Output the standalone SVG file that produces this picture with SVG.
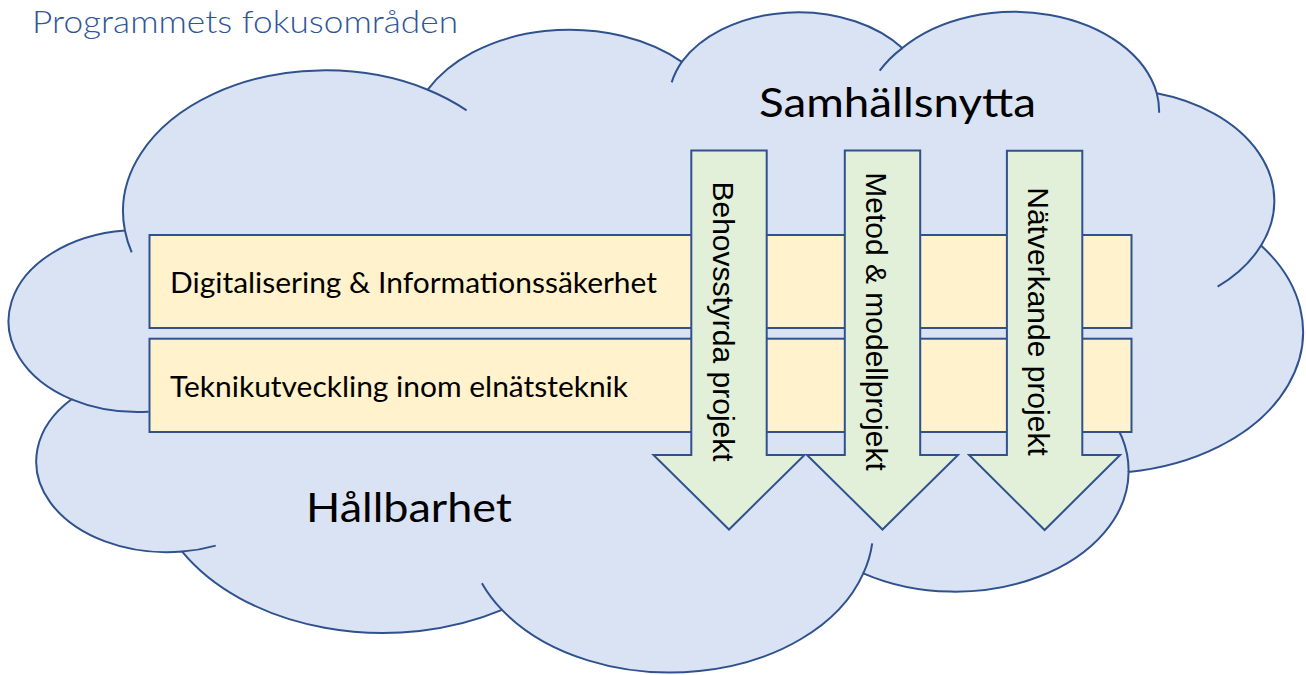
<svg xmlns="http://www.w3.org/2000/svg" width="1306" height="675" viewBox="0 0 1306 675">
  <style>
    .outline { stroke: #2F528F; stroke-width: 2; stroke-linejoin: miter; }
    .cloud { fill: #DAE3F3; }
    .tail { fill: none; stroke: #2F528F; stroke-width: 2; }
    .band { fill: #FFF2CC; }
    .arrow { fill: #E2F0D9; }
    .lbl { font-family: Lato, "Open Sans", sans-serif; fill: #000000; }
    .alabel { font-family: "Liberation Sans", Arial, sans-serif; font-size: 30px; fill: #000000; }
    .title { font-family: Lato, "Open Sans", sans-serif; font-weight: 300; font-size: 32px; fill: #2F5597; }
  </style>
  <rect x="0" y="0" width="1306" height="675" fill="#FFFFFF"/>

  <g id="cloud">
    <path class="cloud outline" d="M124.9,230.5
      A202.4,141.0 0 0 1 427.7,89.7
      A159.9,111.5 0 0 1 681.8,61.9
      A130.9,91.2 0 0 1 902.3,48.1
      A145.6,101.2 0 0 1 1156.8,93.3
      A159.9,111.6 0 0 1 1261.0,245.6
      A203.1,141.5 0 0 1 1128.6,471.9
      A173.4,120.7 0 0 1 863.3,573.3
      A202.4,141.4 0 0 1 502.0,609.9
      A231.4,161.8 0 0 1 182.2,551.6
      A130.7,90.8 0 0 1 71.6,399.3
      A130.3,91.2 0 0 1 124.9,230.5 Z"/>
    <path class="tail" d="M131.7,252.3 A202.4,141.0 0 0 1 124.9,230.5
      M427.7,89.7 A202.4,141.0 0 0 1 466.6,110.4
      M671.7,82.4 A130.9,91.2 0 0 1 681.8,61.9
      M879.7,70.7 A145.6,101.2 0 0 1 902.3,48.1
      M1156.8,93.3 A145.6,101.2 0 0 1 1159.1,112.7
      M1261.0,245.6 A159.9,111.6 0 0 1 1217.6,286.7
      M1031.1,362.3 A173.4,120.7 0 0 1 1128.6,471.9
      M872.2,543.3 A202.4,141.4 0 0 1 863.3,573.3
      M502.0,609.9 A202.4,141.4 0 0 1 481.9,583.2
      M215.7,545.6 A130.7,90.8 0 0 1 182.2,551.6
      M148.7,411.7 A130.3,91.2 0 0 1 71.6,399.3"/>
  </g>

  <g id="title">
    <text class="title" x="32" y="33" textLength="426" lengthAdjust="spacingAndGlyphs">Programmets fokusområden</text>
  </g>

  <g id="samhallsnytta">
    <text class="lbl" x="759" y="116.7" font-size="41" textLength="277" lengthAdjust="spacingAndGlyphs">Samhällsnytta</text>
  </g>

  <g id="hallbarhet">
    <text class="lbl" x="306" y="521.7" font-size="41" textLength="206" lengthAdjust="spacingAndGlyphs">Hållbarhet</text>
  </g>

  <g id="band-digitalisering">
    <rect class="band outline" x="149.5" y="235" width="982" height="93"/>
    <text class="lbl" x="170" y="293.3" font-size="29" textLength="487" lengthAdjust="spacingAndGlyphs">Digitalisering &amp; Informationssäkerhet</text>
  </g>

  <g id="band-teknikutveckling">
    <rect class="band outline" x="149.5" y="338.7" width="982" height="93.3"/>
    <text class="lbl" x="170" y="396.7" font-size="29" textLength="458" lengthAdjust="spacingAndGlyphs">Teknikutveckling inom elnätsteknik</text>
  </g>

  <g id="arrow-behovsstyrda">
    <path class="arrow outline" d="M691.3,150.5 H766.7 V455 H804.5 L729,529.5 L653.5,455 H691.3 Z"/>
    <text class="alabel" transform="translate(713.3,321.5) rotate(90)" text-anchor="middle">Behovsstyrda projekt</text>
  </g>

  <g id="arrow-metod">
    <path class="arrow outline" d="M844.8,150.5 H920.2 V455 H958 L882.5,529.5 L807,455 H844.8 Z"/>
    <text class="alabel" transform="translate(866,321.5) rotate(90)" text-anchor="middle">Metod &amp; modellprojekt</text>
  </g>

  <g id="arrow-natverkande">
    <path class="arrow outline" d="M1006.9,150.8 H1082.3 V455 H1120.1 L1044.6,530 L969.1,455 H1006.9 Z"/>
    <text class="alabel" transform="translate(1028.3,321.5) rotate(90)" text-anchor="middle">Nätverkande projekt</text>
  </g>

  <g id="connectors"/>
</svg>
